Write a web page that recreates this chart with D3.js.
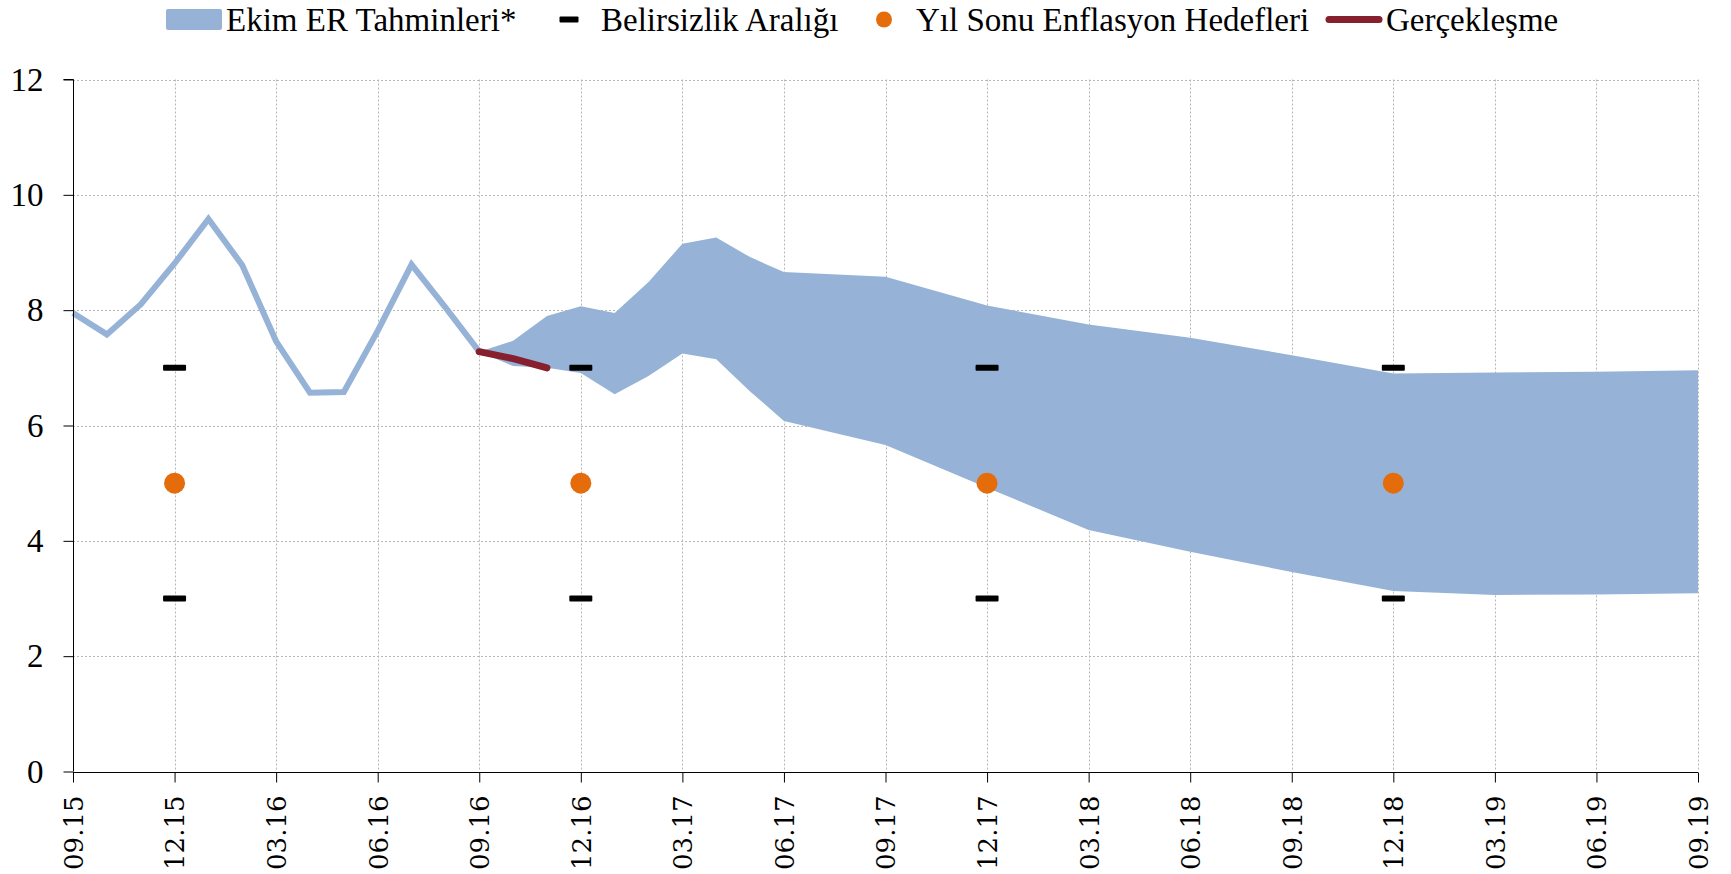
<!DOCTYPE html>
<html>
<head>
<meta charset="utf-8">
<script src="https://cdn.jsdelivr.net/npm/d3@7/dist/d3.min.js"></script>
<style>
  html, body { margin: 0; padding: 0; background: #ffffff; }
  svg { display: block; }
</style>
</head>
<body>
<svg id="chart" width="1731" height="874"></svg>
<script>
// Monthly timeline of the horizontal axis, 09.15 through 09.19
const months = [];
for (let y = 15; y <= 19; y++) {
  for (let m = 1; m <= 12; m++) {
    const label = String(m).padStart(2, "0") + "." + y;
    if ((y === 15 && m < 9) || (y === 19 && m > 9)) continue;
    months.push(label);
  }
}
// Tick labels shown every quarter
const tickLabels = ["09.15","12.15","03.16","06.16","09.16","12.16","03.17","06.17",
  "09.17","12.17","03.18","06.18","09.18","12.18","03.19","06.19","09.19"];
const yTicks = [0, 2, 4, 6, 8, 10, 12];

// Annual CPI inflation (%) up to the forecast start
const histDates = ["09.15","10.15","11.15","12.15","01.16","02.16","03.16","04.16",
  "05.16","06.16","07.16","08.16","09.16"];
const histValues = [7.95, 7.58, 8.10, 8.81, 9.58, 8.78, 7.46, 6.57, 6.58, 7.64, 8.79, 8.05, 7.28];

// October Inflation Report forecast band (upper / lower bounds)
const bandDates = ["09.16","10.16","11.16","12.16","01.17","02.17","03.17","04.17","05.17",
  "06.17","09.17","12.17","03.18","06.18","09.18","12.18","03.19","06.19","09.19"];
const bandUpper = [7.28, 7.47, 7.90, 8.07, 7.95, 8.49, 9.15, 9.26, 8.92,
  8.66, 8.58, 8.08, 7.75, 7.52, 7.22, 6.90, 6.92, 6.93, 6.96];
const bandLower = [7.28, 7.03, 7.00, 6.91, 6.54, 6.86, 7.25, 7.15, 6.59,
  6.08, 5.66, 4.92, 4.19, 3.81, 3.46, 3.13, 3.06, 3.07, 3.09];

// Realised inflation after the report
const actualDates = ["09.16","10.16","11.16"];
const actualValues = [7.28, 7.16, 7.00];

// Year-end targets and uncertainty range
const targetDates = ["12.15","12.16","12.17","12.18"];
const targetValues = [5, 5, 5, 5];
const rangeUpper = [7, 7, 7, 7];
const rangeLower = [3, 3, 3, 3];

// Legend entries
const legendLabels = ["Ekim ER Tahminleri*", "Belirsizlik Aralığı",
  "Yıl Sonu Enflasyon Hedefleri", "Gerçekleşme"];

// Colours
const C_BAND = "#96b3d7";
const C_ACTUAL = "#86202f";
const C_TARGET = "#e46c0a";
const C_GRID = "#b7b7b7";

const svg = d3.select("#chart");
const W = 1731, H = 874;
const margin = { left: 73, right: W - 1698, top: 79.5, bottom: H - 771.5 };

const idx = d => months.indexOf(d);
const x = d3.scaleLinear()
  .domain([0, months.length - 1])
  .range([margin.left, W - margin.right]);
const y = d3.scaleLinear()
  .domain([0, 12])
  .range([H - margin.bottom, margin.top]);

svg.append("rect").attr("width", W).attr("height", H).attr("fill", "#fff");

// Grid
const grid = svg.append("g").attr("class", "grid");
grid.selectAll("line.v")
  .data(tickLabels.slice(1))
  .join("line")
  .attr("x1", d => Math.round(x(idx(d))) + 0.5)
  .attr("x2", d => Math.round(x(idx(d))) + 0.5)
  .attr("y1", y(12)).attr("y2", y(0))
  .attr("stroke", C_GRID).attr("stroke-width", 1).attr("stroke-dasharray", "2,2");
grid.selectAll("line.h")
  .data(yTicks.slice(1))
  .join("line")
  .attr("x1", x(0)).attr("x2", x(months.length - 1))
  .attr("y1", d => Math.round(y(d)) + 0.5)
  .attr("y2", d => Math.round(y(d)) + 0.5)
  .attr("stroke", C_GRID).attr("stroke-width", 1).attr("stroke-dasharray", "2,2");

// Forecast band
const bandData = bandDates.map((d, i) => ({ d, hi: bandUpper[i], lo: bandLower[i] }));
svg.append("path")
  .datum(bandData)
  .attr("fill", C_BAND)
  .attr("d", d3.area()
    .x(p => x(idx(p.d)))
    .y0(p => y(p.lo))
    .y1(p => y(p.hi)));

// Historical inflation line
const histData = histDates.map((d, i) => ({ d, v: histValues[i] }));
svg.append("path")
  .datum(histData)
  .attr("fill", "none")
  .attr("stroke", C_BAND)
  .attr("stroke-width", 6)
  .attr("stroke-linejoin", "miter")
  .attr("d", d3.line().x(p => x(idx(p.d))).y(p => y(p.v)));

// Realised inflation line
const actData = actualDates.map((d, i) => ({ d, v: actualValues[i] }));
svg.append("path")
  .datum(actData)
  .attr("fill", "none")
  .attr("stroke", C_ACTUAL)
  .attr("stroke-width", 7)
  .attr("stroke-linecap", "round")
  .attr("stroke-linejoin", "round")
  .attr("d", d3.line().x(p => x(idx(p.d))).y(p => y(p.v)));

// Uncertainty range dashes
const dashW = 23, dashH = 6;
const rangeData = [];
targetDates.forEach((d, i) => {
  rangeData.push({ d, v: rangeUpper[i] });
  rangeData.push({ d, v: rangeLower[i] });
});
svg.append("g").selectAll("rect")
  .data(rangeData)
  .join("rect")
  .attr("x", p => x(idx(p.d)) - dashW / 2)
  .attr("y", p => y(p.v) - dashH / 2)
  .attr("width", dashW).attr("height", dashH)
  .attr("rx", 1)
  .attr("fill", "#000");

// Year-end target markers
svg.append("g").selectAll("circle")
  .data(targetDates.map((d, i) => ({ d, v: targetValues[i] })))
  .join("circle")
  .attr("cx", p => x(idx(p.d)))
  .attr("cy", p => y(p.v))
  .attr("r", 10.5)
  .attr("fill", C_TARGET);

// Axes
const yAxis = d3.axisLeft(y).tickValues(yTicks).tickSize(10).tickPadding(20).tickFormat(d3.format("d"));
const gy = svg.append("g")
  .attr("transform", `translate(${Math.round(x(0)) + 0.5},0)`)
  .call(yAxis);
gy.select(".domain").attr("stroke", "#000").attr("d", `M-10,${y(12)}H0V${y(0)}`);
gy.selectAll(".tick line").attr("stroke", "#000");
gy.selectAll(".tick text")
  .attr("font-family", "'Liberation Serif', serif")
  .attr("font-size", 33)
  .attr("fill", "#000");

const xAxis = d3.axisBottom(x)
  .tickValues(tickLabels.map(idx))
  .tickSize(10)
  .tickFormat(i => months[i]);
const gx = svg.append("g")
  .attr("transform", `translate(0,${Math.round(y(0)) + 0.5})`)
  .call(xAxis);
gx.select(".domain").attr("stroke", "#000").attr("d", `M${x(0)},0H${x(months.length - 1)}`);
gx.selectAll(".tick line").attr("stroke", "#000");
gx.selectAll(".tick text")
  .attr("font-family", "'DejaVu Serif', serif")
  .attr("font-size", 26)
  .attr("fill", "#000")
  .attr("text-anchor", "end")
  .attr("transform", "translate(0,23) rotate(-90)")
  .attr("x", 0).attr("y", 0)
  .attr("dy", "0.36em");

// Legend
const legend = svg.append("g").attr("class", "legend");
const legendX = [166, 541, 856, 1326];
const symW = 56, legY = 19.5;
legendLabels.forEach((label, i) => {
  const g = legend.append("g").attr("transform", `translate(${legendX[i]},${legY})`);
  if (i === 0) {
    g.append("rect").attr("x", 0).attr("y", -10.5).attr("width", symW).attr("height", 21)
      .attr("rx", 2).attr("fill", C_BAND);
  } else if (i === 1) {
    g.append("rect").attr("x", symW / 2 - 9.5).attr("y", -3).attr("width", 19).attr("height", 6)
      .attr("rx", 1).attr("fill", "#000");
  } else if (i === 2) {
    g.append("circle").attr("cx", symW / 2).attr("cy", 0).attr("r", 8)
      .attr("fill", C_TARGET);
  } else {
    g.append("line").attr("x1", 3).attr("x2", symW - 3).attr("y1", 0).attr("y2", 0)
      .attr("stroke", C_ACTUAL).attr("stroke-width", 7).attr("stroke-linecap", "round");
  }
  g.append("text")
    .attr("x", symW + 4)
    .attr("y", 0)
    .attr("dy", "0.35em")
    .attr("font-family", "'Liberation Serif', serif")
    .attr("font-size", 33)
    .attr("fill", "#000")
    .text(label);
});
</script>
</body>
</html>
